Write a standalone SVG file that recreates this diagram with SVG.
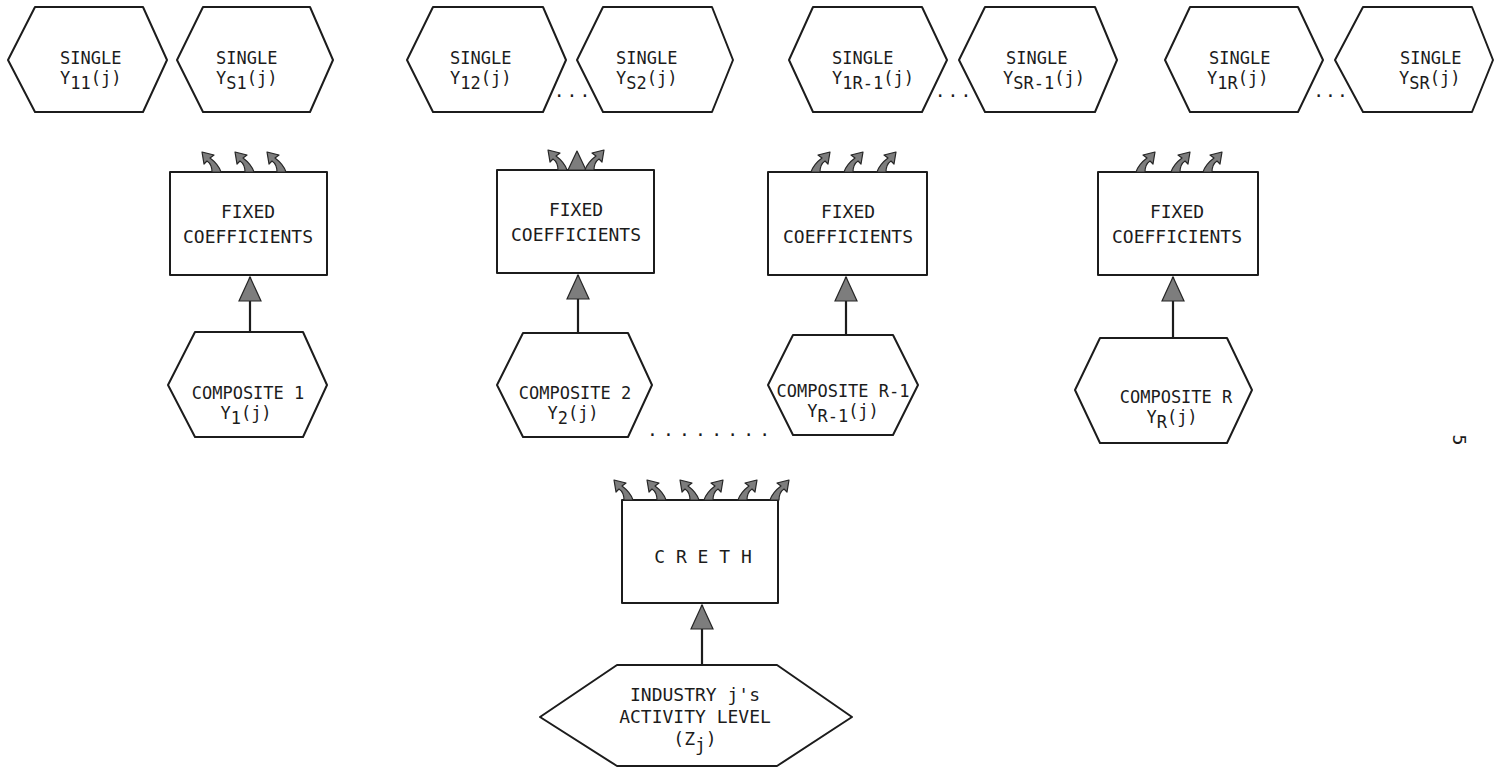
<svg xmlns="http://www.w3.org/2000/svg" xmlns:xlink="http://www.w3.org/1999/xlink" width="1503" height="767" viewBox="0 0 1503 767">
<style>
  .sh { fill: #ffffff; stroke: #1c1c1c; stroke-width: 2; stroke-linejoin: round; }
  .t { font-family: "DejaVu Sans Mono", "Liberation Mono", monospace; font-size: 18px; fill: #1c1c1c; }
  .s { font-size: 17px; }
  .m { text-anchor: middle; }
  .ln { stroke: #1c1c1c; stroke-width: 2.2; fill: none; }
  .ca { fill: #7d7d7d; stroke: #262626; stroke-width: 1.2; stroke-linejoin: round; }
</style>
<defs>
  <marker id="ah" markerUnits="userSpaceOnUse" viewBox="0 0 26 24" refX="25" refY="12" markerWidth="26" markerHeight="24" orient="auto">
    <path d="M 25 12 L 1 1 L 1 23 Z" fill="#7d7d7d" stroke="#262626" stroke-width="1.2"/>
  </marker>
  <path id="cu" class="ca" d="M -4 0 C -4 -6 -6 -9 -9 -11 L -12 -8 L -14 -20 L -2 -17 L -6 -14 C -2 -11 3 -6 5 0 Z"/>
  <path id="su" class="ca" d="M 0 -19 L -9 0 L 9 0 Z"/>
</defs>
<rect width="1503" height="767" fill="#ffffff"/>

<g id="single-11">
  <polygon class="sh" points="8,60 35,7 143,7 167,60 143,112 35,112"/>
  <text class="t s" x="60" y="64">SINGLE</text>
  <text class="t s" x="60" y="84">Y<tspan dy="5">11</tspan><tspan dy="-5">(j)</tspan></text>
</g>
<g id="single-s1">
  <polygon class="sh" points="177,60 203,7 310,7 333,60 310,112 203,112"/>
  <text class="t s" x="216" y="64">SINGLE</text>
  <text class="t s" x="216" y="84">Y<tspan dy="5">S1</tspan><tspan dy="-5">(j)</tspan></text>
</g>
<g id="single-12">
  <polygon class="sh" points="407,60 433,7 543,7 566,60 543,112 433,112"/>
  <text class="t s" x="450" y="64">SINGLE</text>
  <text class="t s" x="450" y="84">Y<tspan dy="5">12</tspan><tspan dy="-5">(j)</tspan></text>
</g>
<g id="single-s2">
  <polygon class="sh" points="577,60 603,7 712,7 733,60 712,112 603,112"/>
  <text class="t s" x="616" y="64">SINGLE</text>
  <text class="t s" x="616" y="84">Y<tspan dy="5">S2</tspan><tspan dy="-5">(j)</tspan></text>
</g>
<g id="single-1r-1">
  <polygon class="sh" points="789,60 813,7 922,7 947,60 922,112 813,112"/>
  <text class="t s" x="832" y="64">SINGLE</text>
  <text class="t s" x="832" y="84">Y<tspan dy="5">1R-1</tspan><tspan dy="-5">(j)</tspan></text>
</g>
<g id="single-sr-1">
  <polygon class="sh" points="959,60 985,7 1095,7 1117,60 1095,112 985,112"/>
  <text class="t s" x="1006" y="64">SINGLE</text>
  <text class="t s" x="1003" y="84">Y<tspan dy="5">SR-1</tspan><tspan dy="-5">(j)</tspan></text>
</g>
<g id="single-1r">
  <polygon class="sh" points="1165,60 1190,7 1298,7 1323,60 1298,112 1190,112"/>
  <text class="t s" x="1209" y="64">SINGLE</text>
  <text class="t s" x="1207" y="84">Y<tspan dy="5">1R</tspan><tspan dy="-5">(j)</tspan></text>
</g>
<g id="single-sr">
  <polygon class="sh" points="1335,60 1363,7 1472,7 1493,60 1472,112 1363,112"/>
  <text class="t s" x="1400" y="64">SINGLE</text>
  <text class="t s" x="1399" y="84">Y<tspan dy="5">SR</tspan><tspan dy="-5">(j)</tspan></text>
</g>

<g id="dots">
  <text class="t m" x="573" y="97" letter-spacing="2">...</text>
  <text class="t m" x="954" y="97" letter-spacing="2">...</text>
  <text class="t m" x="1331" y="97" letter-spacing="1">...</text>
  <text class="t" x="647" y="436" letter-spacing="5.2">........</text>
</g>

<g id="fixed-1">
  <rect class="sh" x="170" y="172" width="157" height="103"/>
  <text class="t m" x="248" y="218">FIXED</text>
  <text class="t m" x="248" y="243">COEFFICIENTS</text>
</g>
<g id="fixed-2">
  <rect class="sh" x="497" y="170" width="157" height="103"/>
  <text class="t m" x="576" y="216">FIXED</text>
  <text class="t m" x="576" y="241">COEFFICIENTS</text>
</g>
<g id="fixed-r-1">
  <rect class="sh" x="768" y="172" width="159" height="103"/>
  <text class="t m" x="848" y="218">FIXED</text>
  <text class="t m" x="848" y="243">COEFFICIENTS</text>
</g>
<g id="fixed-r">
  <rect class="sh" x="1098" y="172" width="160" height="103"/>
  <text class="t m" x="1177" y="218">FIXED</text>
  <text class="t m" x="1177" y="243">COEFFICIENTS</text>
</g>

<g id="composite-1">
  <polygon class="sh" points="168,385 195,332 303,332 327,385 303,437 195,437"/>
  <text class="t s m" x="248" y="399">COMPOSITE 1</text>
  <text class="t s m" x="246" y="419">Y<tspan dy="5">1</tspan><tspan dy="-5">(j)</tspan></text>
</g>
<g id="composite-2">
  <polygon class="sh" points="497,385 523,333 628,333 652,385 628,437 523,437"/>
  <text class="t s m" x="575" y="399">COMPOSITE 2</text>
  <text class="t s m" x="573" y="419">Y<tspan dy="5">2</tspan><tspan dy="-5">(j)</tspan></text>
</g>
<g id="composite-r-1">
  <polygon class="sh" points="768,385 793,335 893,335 918,385 893,435 793,435"/>
  <text class="t s m" x="843" y="397">COMPOSITE R-1</text>
  <text class="t s m" x="843" y="417">Y<tspan dy="5">R-1</tspan><tspan dy="-5">(j)</tspan></text>
</g>
<g id="composite-r">
  <polygon class="sh" points="1075,390 1100,338 1227,338 1252,390 1227,443 1100,443"/>
  <text class="t s m" x="1176" y="403">COMPOSITE R</text>
  <text class="t s m" x="1172" y="423">Y<tspan dy="5">R</tspan><tspan dy="-5">(j)</tspan></text>
</g>

<g id="creth">
  <rect class="sh" x="622" y="500" width="156" height="103"/>
  <text class="t m" x="703" y="563">C R E T H</text>
</g>

<g id="industry">
  <polygon class="sh" points="540,717 617,665 777,665 852,717 777,766 617,766"/>
  <text class="t m" x="695" y="701">INDUSTRY j's</text>
  <text class="t m" x="695" y="723">ACTIVITY LEVEL</text>
  <text class="t m" x="695" y="745">(Z<tspan dy="6">j</tspan><tspan dy="-6">)</tspan></text>
</g>

<g id="connectors">
  <line class="ln" x1="250" y1="332" x2="250" y2="277" marker-end="url(#ah)"/>
  <line class="ln" x1="578" y1="333" x2="578" y2="275" marker-end="url(#ah)"/>
  <line class="ln" x1="846" y1="335" x2="846" y2="277" marker-end="url(#ah)"/>
  <line class="ln" x1="1173" y1="338" x2="1173" y2="277" marker-end="url(#ah)"/>
  <line class="ln" x1="702" y1="665" x2="702" y2="605" marker-end="url(#ah)"/>

  <use xlink:href="#cu" href="#cu" transform="translate(216,172)"/>
  <use xlink:href="#cu" href="#cu" transform="translate(249,172)"/>
  <use xlink:href="#cu" href="#cu" transform="translate(281,172)"/>

  <use xlink:href="#cu" href="#cu" transform="translate(562,170)"/>
  <use xlink:href="#su" href="#su" transform="translate(577,170)"/>
  <use xlink:href="#cu" href="#cu" transform="translate(590,170) scale(-1,1)"/>

  <use xlink:href="#cu" href="#cu" transform="translate(816,172) scale(-1,1)"/>
  <use xlink:href="#cu" href="#cu" transform="translate(849,172) scale(-1,1)"/>
  <use xlink:href="#cu" href="#cu" transform="translate(882,172) scale(-1,1)"/>

  <use xlink:href="#cu" href="#cu" transform="translate(1141,172) scale(-1,1)"/>
  <use xlink:href="#cu" href="#cu" transform="translate(1176,172) scale(-1,1)"/>
  <use xlink:href="#cu" href="#cu" transform="translate(1208,172) scale(-1,1)"/>

  <use xlink:href="#cu" href="#cu" transform="translate(628,500)"/>
  <use xlink:href="#cu" href="#cu" transform="translate(661,500)"/>
  <use xlink:href="#cu" href="#cu" transform="translate(694,500)"/>
  <use xlink:href="#cu" href="#cu" transform="translate(709,500) scale(-1,1)"/>
  <use xlink:href="#cu" href="#cu" transform="translate(743,500) scale(-1,1)"/>
  <use xlink:href="#cu" href="#cu" transform="translate(775,500) scale(-1,1)"/>
</g>

<text class="t" x="0" y="0" font-size="16" transform="translate(1453,440) rotate(90)" text-anchor="middle">5</text>
</svg>
